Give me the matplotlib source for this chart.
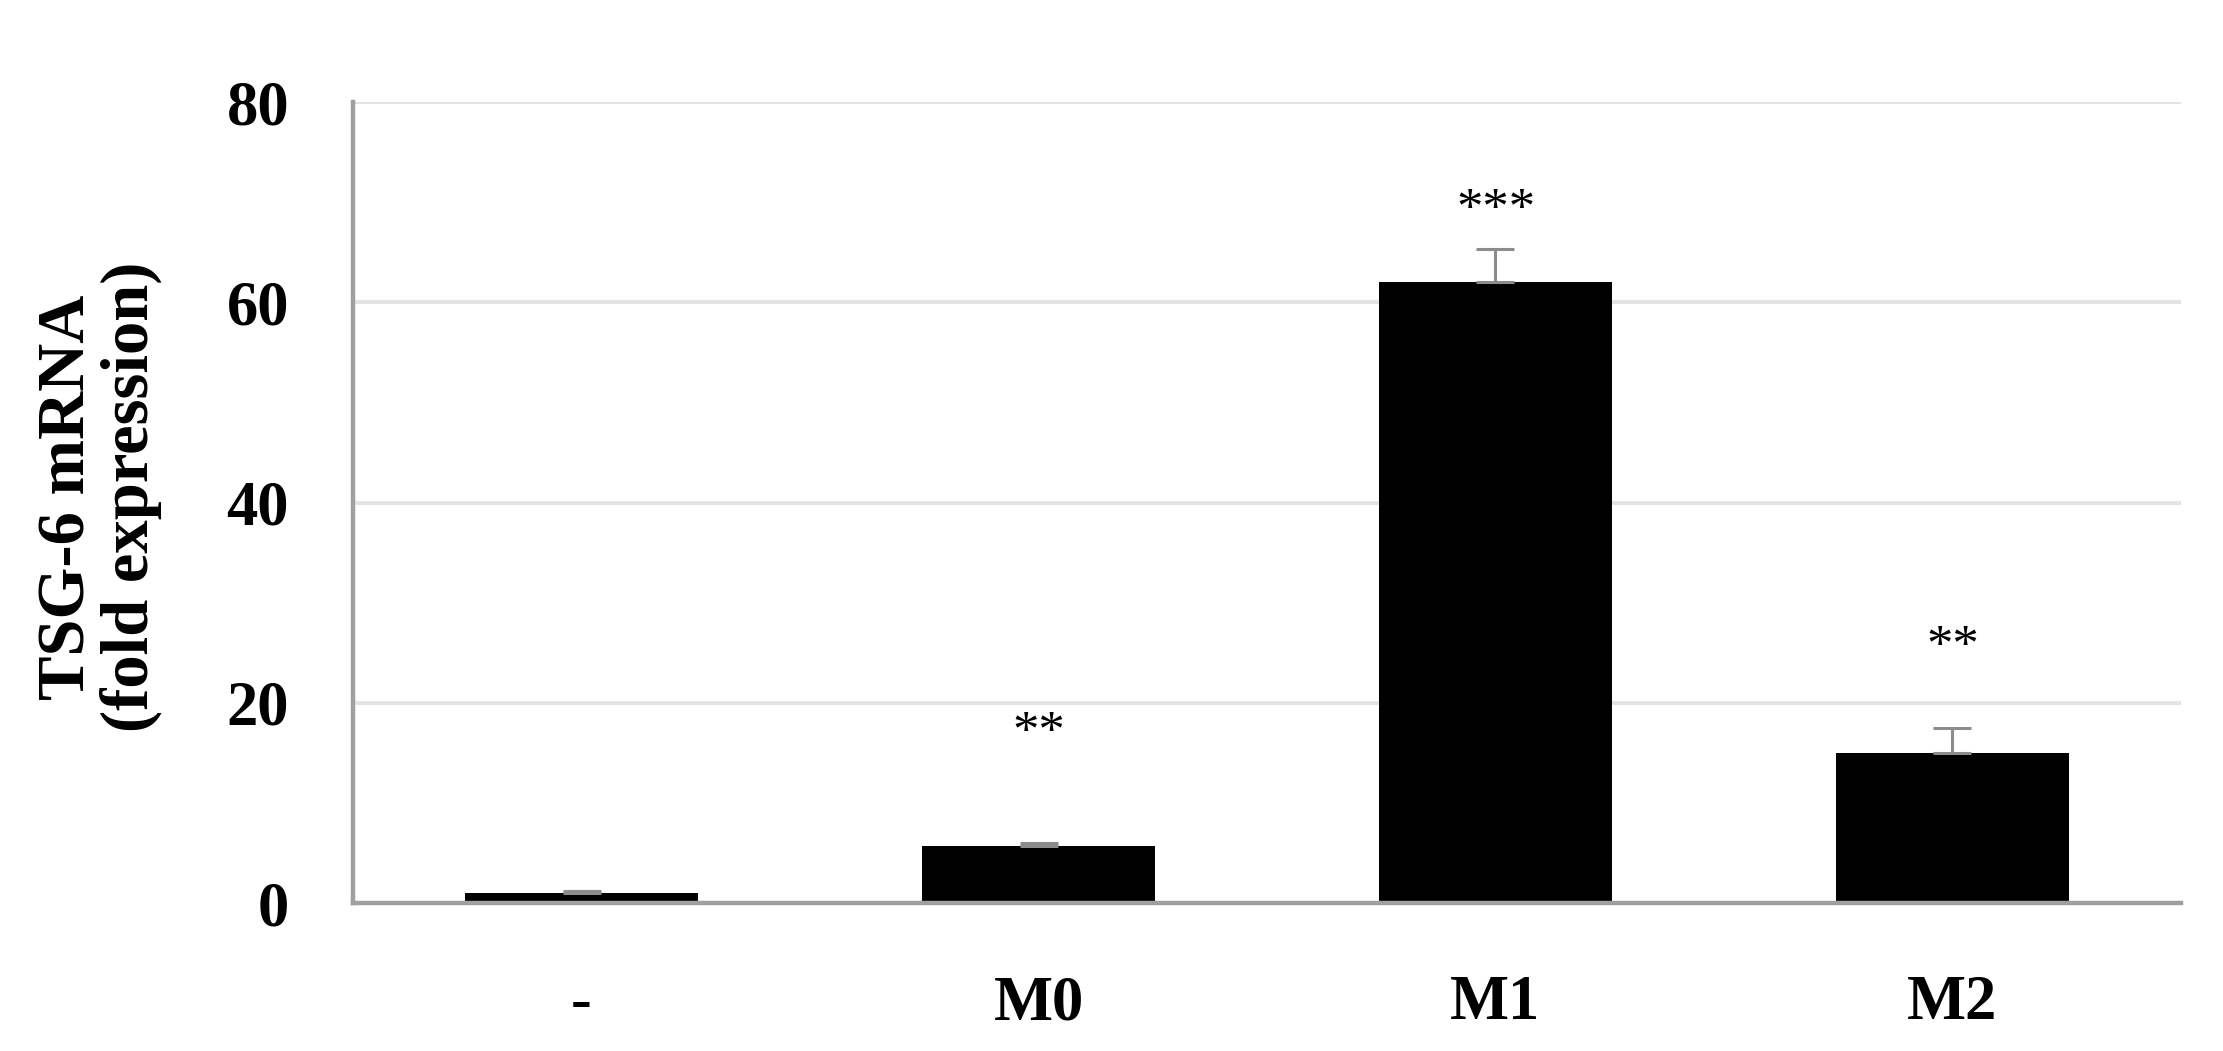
import numpy as np
import matplotlib
matplotlib.use("Agg")
import matplotlib.pyplot as plt

# datos
grupos = ["-", "M0", "M1", "M2"]
expresion = [1.0, 5.7, 62.0, 15.0]
error = [0.2, 0.3, 3.3, 2.5]
significancia = ["", "**", "***", "**"]
altura_signif = [0, 15.6, 67.8, 24.2]

plt.rcParams['font.family'] = ['Liberation Serif', 'DejaVu Serif']

fig = plt.figure(figsize=(22.23, 10.51), dpi=100)
ax = fig.add_axes([0.1588, 0.1408, 0.8223, 0.7621])

x = np.arange(len(grupos))
ax.bar(x, expresion, width=0.508, color='black', zorder=3)
ax.errorbar(x, expresion, yerr=[np.zeros(len(error)), error], fmt='none',
            ecolor='#8c8c8c', elinewidth=2.2, capsize=14, capthick=2.2, zorder=4)

for xi, txt, yi in zip(x, significancia, altura_signif):
    if txt:
        ax.text(xi, yi, txt, ha='center', va='baseline', fontsize=38, color='black')

ax.set_xlim(-0.5, len(grupos) - 0.5)
ax.set_ylim(0, 80)
ax.set_yticks([0, 20, 40, 60, 80])
ax.set_xticks(x)
ax.set_xticklabels(grupos)

ax.yaxis.grid(True, color='#e3e3e3', linewidth=2.8, zorder=0)
ax.set_axisbelow(True)
for s in ['top', 'right']:
    ax.spines[s].set_visible(False)
for s in ['left', 'bottom']:
    ax.spines[s].set_color('#a0a0a0')
    ax.spines[s].set_linewidth(3.2)
    ax.spines[s].set_zorder(5)

ax.tick_params(axis='y', length=0, labelsize=45, pad=46)
ax.tick_params(axis='x', length=0, labelsize=45, pad=52)
for lab in ax.get_xticklabels() + ax.get_yticklabels():
    lab.set_fontweight('bold')

fig.text(0.045, 0.527, "TSG-6 mRNA\n(fold expression)", rotation=90,
         ha='center', va='center', multialignment='center',
         fontsize=48, fontweight='bold', linespacing=1.02)

plt.savefig("out.png", dpi=100)
